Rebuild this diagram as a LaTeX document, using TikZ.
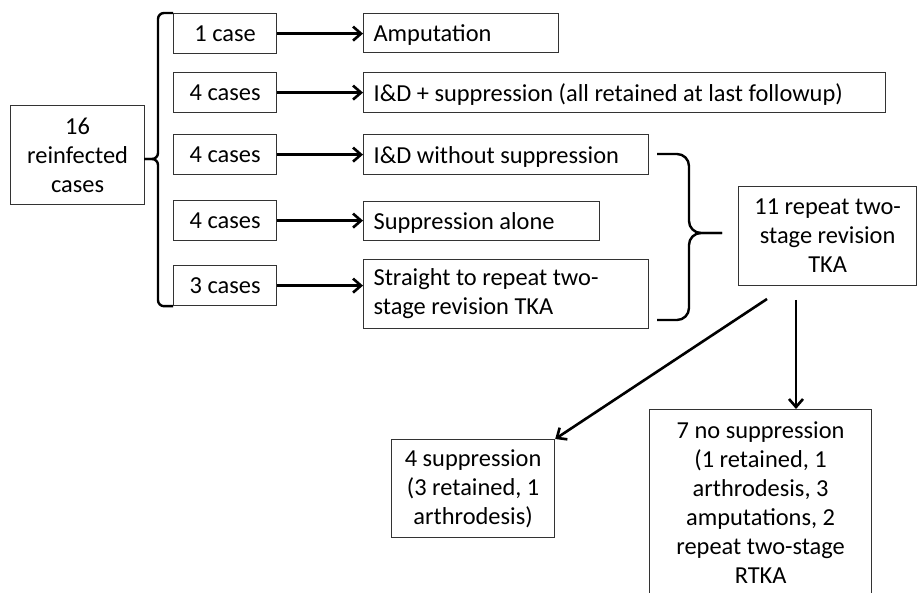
\documentclass[tikz,border=0pt]{standalone}
\usepackage{fontspec}
\setmainfont{Carlito}
\usetikzlibrary{arrows.meta}

\begin{document}
\begin{tikzpicture}[x=0.5pt,y=-0.5pt,
  box/.style={draw=black!80,line width=0.6pt,inner sep=0pt,anchor=north west,
    font=\fontsize{12.2}{14.5}\selectfont,align=center},
  casebox/.style={box,minimum width=51.5pt,minimum height=20pt},
  outbox/.style={box,align=flush left,inner xsep=5pt},
  onebox/.style={outbox,text depth=0pt},
  arr/.style={-{Straight Barb[length=4pt,width=7pt]},line width=1.3pt},
  brace/.style={line width=1.2pt,rounded corners=#1},
  brace/.default=3pt]
  \clip (0,0) rectangle (917,593);

  \node[box,minimum width=67pt,minimum height=49.5pt] (src) at (10,105) {16\\reinfected\\cases};

  \node[casebox] (c1) at (173,13) {1 case};
  \node[casebox] (c2) at (173,72) {4 cases};
  \node[casebox] (c3) at (173,134) {4 cases};
  \node[casebox] (c4) at (173,200) {4 cases};
  \node[casebox] (c5) at (173,265) {3 cases};

  \node[onebox,text width=87.5pt,minimum height=19.5pt] (o1) at (363,13) {Amputation};
  \node[onebox,text width=251pt,minimum height=20pt] (o2) at (363,72) {I\&D + suppression (all retained at last followup)};
  \node[onebox,text width=132.5pt,minimum height=20pt] (o3) at (363,134) {I\&D without suppression};
  \node[onebox,text width=108pt,minimum height=19.5pt] (o4) at (363,201) {Suppression alone};
  \node[outbox,text width=132.5pt,minimum height=34.5pt] (o5) at (363,259) {Straight to repeat two-\\stage revision TKA};

  \node[box,minimum width=89pt,minimum height=49.5pt] (rep) at (738,186) {11 repeat two-\\stage revision\\TKA};
  \node[box,minimum width=81.5pt,minimum height=49pt] (sup) at (391,439) {4 suppression\\(3 retained, 1\\arthrodesis)};
  \node[box,minimum width=111pt,minimum height=93pt] (nosup) at (649,409) {7 no suppression\\(1 retained, 1\\arthrodesis, 3\\amputations, 2\\repeat two-stage\\RTKA};

  % left brace
  \coordinate (lb) at (144,159);
  \draw[brace] (c1.north west) -- ++(-15,0) |- (lb);
  \draw[brace] (c5.south west) -- ++(-15,0) |- (lb);

  \foreach \i in {1,...,5}
    \draw[arr] (c\i.east) -- (c\i.east -| o\i.west);

  % right brace
  \coordinate (rt) at (657,154);
  \coordinate (rb) at (657,320);
  \coordinate (rs) at (722,233);
  \draw[brace=6pt] (rt) -- ++(32,0) |- (rs);
  \draw[brace=6pt] (rb) -- ++(32,0) |- (rs);

  \coordinate (d1) at (767,299);
  \coordinate (v1) at (796,300);
  \draw[arr] (d1) -- (sup.north east);
  \draw[arr] (v1) -- (v1 |- nosup.north);
\end{tikzpicture}
\end{document}
